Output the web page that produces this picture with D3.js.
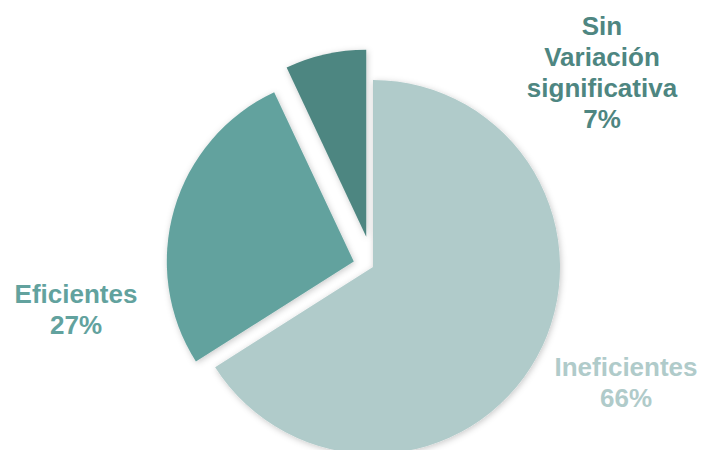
<!DOCTYPE html>
<html>
<head>
<meta charset="utf-8">
<script src="https://cdn.jsdelivr.net/npm/d3@7"></script>
<style>
  html, body { margin: 0; padding: 0; background: #ffffff; }
  svg { display: block; }
  text { font-family: "Liberation Sans", Arial, sans-serif; font-weight: bold; }
</style>
</head>
<body>
<svg id="chart" width="704" height="450"></svg>
<script>
// Data
const categories = ["Ineficientes", "Eficientes", "Sin Variación significativa"];
const values = [66, 27, 7];
const colors = ["#b0cbca", "#62a29e", "#4e8681"];

// Layout
const width = 704, height = 450;
const cx = 373, cy = 267, radius = 187;
const explode = [0, 20, 31];
// label anchors (center x, first baseline y) and how each category wraps
const labelLayout = [
  { x: 626, y: 376, lines: ["Ineficientes"] },
  { x: 76, y: 303, lines: ["Eficientes"] },
  { x: 602, y: 35, lines: ["Sin", "Variación", "significativa"] }
];
const lineHeight = 31;

const svg = d3.select("#chart");

const defs = svg.append("defs");
const shadow = defs.append("filter")
  .attr("id", "sliceShadow")
  .attr("x", "-20%").attr("y", "-20%")
  .attr("width", "140%").attr("height", "140%");
shadow.append("feDropShadow")
  .attr("dx", 1).attr("dy", 1.5)
  .attr("stdDeviation", 3)
  .attr("flood-color", "#000")
  .attr("flood-opacity", 0.22);

const pie = d3.pie().sort(null).value(d => d.value);
const arc = d3.arc().innerRadius(0).outerRadius(radius);

const data = categories.map((c, i) => ({ name: c, value: values[i], color: colors[i], i }));
const arcs = pie(data);

const g = svg.append("g").attr("transform", `translate(${cx},${cy})`);

g.selectAll("path.slice")
  .data(arcs)
  .join("path")
  .attr("class", "slice")
  .attr("d", arc)
  .attr("fill", d => d.data.color)
  .attr("filter", "url(#sliceShadow)")
  .attr("transform", d => {
    const mid = (d.startAngle + d.endAngle) / 2;
    const off = explode[d.data.i];
    return `translate(${Math.sin(mid) * off},${-Math.cos(mid) * off})`;
  });

// Category labels with percentages
const total = d3.sum(values);
const fmt = d3.format(".0%");
arcs.forEach(d => {
  const L = labelLayout[d.data.i];
  const lines = L.lines.concat([fmt(d.data.value / total)]);
  const t = svg.append("text")
    .attr("text-anchor", "middle")
    .attr("font-size", 26)
    .attr("fill", d.data.color);
  lines.forEach((ln, k) => {
    t.append("tspan")
      .attr("x", L.x)
      .attr("y", L.y + k * lineHeight)
      .text(ln);
  });
});
</script>
</body>
</html>
